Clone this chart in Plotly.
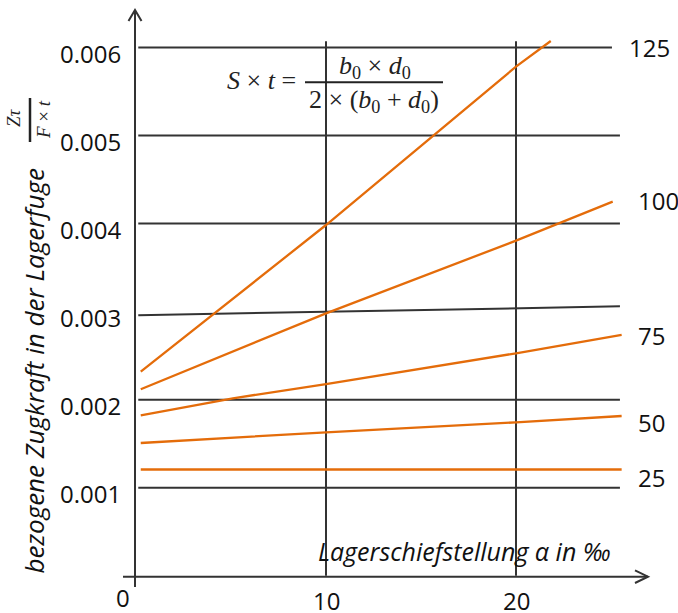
import plotly.graph_objects as go

# ---------------- data ----------------
series_labels = ["125", "100", "75", "50", "25"]

x_125 = [0.25, 10, 20, 21.83]
y_125 = [0.002318, 0.003984, 0.005782, 0.006074]

x_100 = [0.25, 10, 20, 25.09]
y_100 = [0.002118, 0.002981, 0.003806, 0.004249]

x_75 = [0.25, 5.1, 10, 20, 25.56]
y_75 = [0.001823, 0.002016, 0.002178, 0.002527, 0.002735]

x_50 = [0.25, 10, 20, 25.56]
y_50 = [0.001508, 0.001630, 0.001743, 0.001815]

x_25 = [0.25, 25.56]
y_25 = [0.001207, 0.001207]

# slightly tilted grid line near 0.003
tilt_x = [0.12, 25.47]
tilt_y = [0.00296, 0.00306]

y_tick_vals = [0.001, 0.002, 0.004, 0.005, 0.006]
y_label_vals = [0.001, 0.002, 0.003, 0.004, 0.005, 0.006]
y_label_text = ["0.001", "0.002", "0.003", "0.004", "0.005", "0.006"]
x_tick_vals = [0, 10, 20]
x_tick_text = ["0", "10", "20"]

# ---------------- layout / calibration ----------------
W, H = 678, 613
X0_PX, X_SCALE = 136.0, 19.0        # pixel of x=0, px per unit
Y0_PX, Y_SCALE = 575.8, 88050.0     # pixel (from top) of y=0, px per unit
xrange = [-X0_PX / X_SCALE, (W - X0_PX) / X_SCALE]
yrange = [-(H - Y0_PX) / Y_SCALE, Y0_PX / Y_SCALE]

def px(xp):   # pixel -> paper x
    return xp / W

def py(yp):   # pixel from top -> paper y
    return 1 - yp / H

ORANGE = "#E46C0A"
DARK = "#333333"
TXT = "#111111"
SANS = "Open Sans"
SERIF = "Liberation Serif"

fig = go.Figure()

series = [(x_125, y_125), (x_100, y_100), (x_75, y_75), (x_50, y_50), (x_25, y_25)]
# tilted grid line
fig.add_trace(go.Scatter(x=tilt_x, y=tilt_y, mode="lines",
                         line=dict(color=DARK, width=2), hoverinfo="skip", showlegend=False))
for (xs, ys), name in zip(series, series_labels):
    fig.add_trace(go.Scatter(x=xs, y=ys, mode="lines", name=name,
                             line=dict(color=ORANGE, width=2.3), showlegend=False))

shapes = []
# horizontal grid lines
for v in y_tick_vals:
    x_end = 25.05 if v == max(y_tick_vals) else 25.47
    shapes.append(dict(type="line", xref="x", yref="y", x0=0.12, x1=x_end, y0=v, y1=v,
                       line=dict(color=DARK, width=2), layer="below"))
# vertical grid lines
for v in x_tick_vals[1:]:
    shapes.append(dict(type="line", xref="x", yref="y", x0=v, x1=v, y0=0, y1=0.00607,
                       line=dict(color=DARK, width=2), layer="below"))
# white masks behind formula and x-title
shapes.append(dict(type="rect", xref="paper", yref="paper", x0=px(214), x1=px(448),
                   y0=py(116), y1=py(49), fillcolor="white", line=dict(width=0), layer="below"))
shapes.append(dict(type="rect", xref="paper", yref="paper", x0=px(305), x1=px(626),
                   y0=py(567), y1=py(532), fillcolor="white", line=dict(width=0), layer="below"))
# axes
shapes.append(dict(type="line", xref="paper", yref="paper", x0=px(135), x1=px(135),
                   y0=py(587), y1=py(10), line=dict(color=DARK, width=2)))
shapes.append(dict(type="path", xref="paper", yref="paper",
                   path=f"M {px(128.5)},{py(21)} L {px(135)},{py(10)} L {px(141.5)},{py(21)}",
                   line=dict(color=DARK, width=2)))
shapes.append(dict(type="line", xref="paper", yref="paper", x0=px(123), x1=px(648),
                   y0=py(576.7), y1=py(576.7), line=dict(color=DARK, width=2)))
shapes.append(dict(type="path", xref="paper", yref="paper",
                   path=f"M {px(635)},{py(570.4)} L {px(648)},{py(576.7)} L {px(635)},{py(583)}",
                   line=dict(color=DARK, width=2)))
# fraction bars
shapes.append(dict(type="line", xref="paper", yref="paper", x0=px(305), x1=px(443),
                   y0=py(82.3), y1=py(82.3), line=dict(color="#222222", width=2)))
shapes.append(dict(type="line", xref="paper", yref="paper", x0=px(30), x1=px(30),
                   y0=py(98), y1=py(142), line=dict(color="#222222", width=2.5)))

ann = []
# y tick labels
for v, t in zip(y_label_vals, y_label_text):
    ann.append(dict(x=px(123), xref="paper", y=v, yref="y", text=t, showarrow=False,
                    xanchor="right", yanchor="middle", yshift=-6,
                    font=dict(family=SANS, size=24, color=TXT)))
# x tick labels
x_shift = {0: (-13, 3)}
for v, t in zip(x_tick_vals, x_tick_text):
    dx, dy = x_shift.get(v, (0, 0))
    ann.append(dict(x=v, xref="x", y=py(600), yref="paper", text=t, showarrow=False,
                    xanchor="center", yanchor="middle", xshift=dx, yshift=dy,
                    font=dict(family=SANS, size=24, color=TXT)))
# curve labels
label_px = [(626.7, 48), (636, 200), (636, 335), (636, 423), (636, 477)]
for name, (lx, ly) in zip(series_labels, label_px):
    ann.append(dict(x=px(lx), xref="paper", y=py(ly), yref="paper", text=name,
                    showarrow=False, xanchor="left", yanchor="middle",
                    font=dict(family=SANS, size=24, color=TXT)))
# axis titles
ann.append(dict(x=px(465), xref="paper", y=py(551), yref="paper",
                text="<i>Lagerschiefstellung α in ‰</i>", showarrow=False,
                xanchor="center", yanchor="middle",
                font=dict(family=SANS, size=25, color=TXT)))
ann.append(dict(x=px(33), xref="paper", y=py(371.5), yref="paper",
                text="<i>bezogene Zugkraft in der Lagerfuge</i>", showarrow=False,
                textangle=-90, xanchor="center", yanchor="middle",
                font=dict(family=SANS, size=26, color=TXT)))
ann.append(dict(x=px(13), xref="paper", y=py(118), yref="paper",
                text="<i>Zτ</i>", showarrow=False, textangle=-90,
                xanchor="center", yanchor="middle",
                font=dict(family=SERIF, size=19, color="#222222")))
ann.append(dict(x=px(43), xref="paper", y=py(120), yref="paper",
                text="<i>F</i> × <i>t</i>", showarrow=False, textangle=-90,
                xanchor="center", yanchor="middle",
                font=dict(family=SERIF, size=19, color="#222222")))
# formula
ann.append(dict(x=px(261), xref="paper", y=py(80), yref="paper",
                text="<i>S</i> × <i>t</i> =", showarrow=False,
                xanchor="center", yanchor="middle",
                font=dict(family=SERIF, size=26, color="#222222")))
ann.append(dict(x=px(375), xref="paper", y=py(67), yref="paper",
                text="<i>b</i><sub>0</sub> × <i>d</i><sub>0</sub>", showarrow=False,
                xanchor="center", yanchor="middle",
                font=dict(family=SERIF, size=26, color="#222222")))
ann.append(dict(x=px(374), xref="paper", y=py(101), yref="paper",
                text="2 × (<i>b</i><sub>0</sub> + <i>d</i><sub>0</sub>)", showarrow=False,
                xanchor="center", yanchor="middle",
                font=dict(family=SERIF, size=26, color="#222222")))

fig.update_layout(
    width=W, height=H,
    margin=dict(l=0, r=0, t=0, b=0),
    paper_bgcolor="white", plot_bgcolor="white",
    xaxis=dict(range=xrange, visible=False, fixedrange=True),
    yaxis=dict(range=yrange, visible=False, fixedrange=True),
    shapes=shapes, annotations=ann, showlegend=False,
)

fig.write_html("out.html", config={"displayModeBar": False},
               post_script="document.body.style.margin='0';document.body.style.overflow='hidden';")
